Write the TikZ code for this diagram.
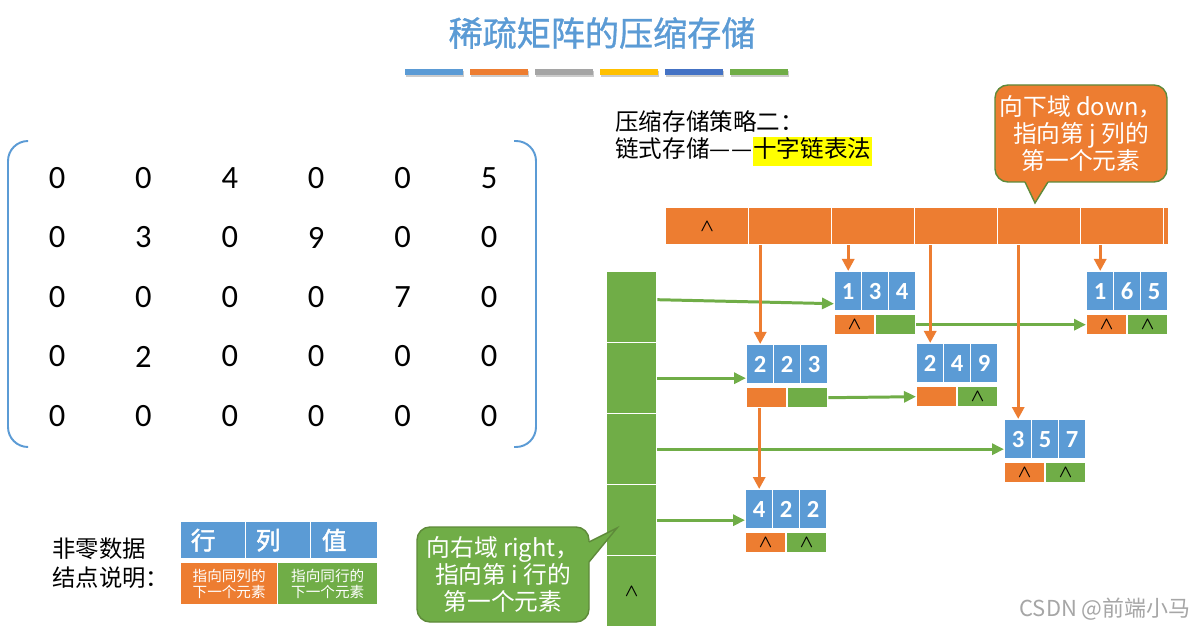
\documentclass[tikz,border=0pt]{standalone}
\usepackage{fontspec}
\setmainfont{Carlito}
\newfontfamily\cjk{Noto Sans CJK SC}
\newfontfamily\cjkb[FakeBold=2]{Noto Sans CJK SC}
\newfontfamily\cjkt[FakeBold=1]{Noto Sans CJK SC}
\usepackage{tikz}
\usetikzlibrary{arrows.meta}

\definecolor{cblue}{HTML}{5B9BD5}
\definecolor{corange}{HTML}{ED7D31}
\definecolor{cgreen}{HTML}{70AD47}
\definecolor{cgray}{HTML}{A5A5A5}
\definecolor{cgold}{HTML}{FFC000}
\definecolor{cnavy}{HTML}{4472C4}
\definecolor{cedge}{HTML}{5E8A3A}
\definecolor{cmark}{HTML}{FFFF00}

\newcommand{\nullmark}{{\fontsize{10}{10}\selectfont\boldmath$\wedge$}}

\begin{document}
\begin{tikzpicture}[x=0.2mm,y=-0.2mm,
  cell/.style={rectangle,draw=white,line width=0.8pt,inner sep=0pt,anchor=north west},
  valcell/.style={cell,fill=cblue,minimum width=5.4mm,minimum height=7.8mm,text=white,font=\fontsize{14}{14}\selectfont\bfseries},
  downcell/.style={cell,fill=corange,minimum width=8mm,minimum height=4mm},
  rightcell/.style={cell,fill=cgreen,minimum width=8mm,minimum height=4mm},
  headcell/.style={cell,fill=corange,minimum width=16.6mm,minimum height=7.4mm},
  rowcell/.style={cell,fill=cgreen,minimum width=10mm,minimum height=14.2mm},
  num/.style={font=\fontsize{18.5}{20}\selectfont},
  darrow/.style={corange,line width=1.8pt,-{Triangle[length=2.4mm,width=2.4mm]}},
  rarrow/.style={cgreen,line width=1.7pt,-{Triangle[length=2.4mm,width=2.2mm]}},
  note/.style={rectangle,rounded corners=2.6mm,draw=cedge,line width=0.8pt,text=white,align=center,inner sep=0pt,font=\cjk\fontsize{13.5}{15.5}\selectfont},
  brk/.style={cblue,line width=1.1pt,rounded corners=4mm}]
% Frame
\useasboundingbox (0,0) rectangle (1201,629);
\fill[white] (0,0) rectangle (1201,629);

% Title
\node[text=cblue,font=\cjkt\fontsize{19.4}{22}\selectfont] (title) at (602,33) {稀疏矩阵的压缩存储};
\foreach \col [count=\k from 0] in {cblue,corange,cgray,cgold,cnavy,cgreen} {
  \fill[black!20] ({406+65*\k},71) rectangle ++(58,6);
  \fill[\col] ({405+65*\k},69) rectangle ++(58,6);
}

% Matrix
\draw[brk] (28,141) -- (8,141) -- (8,447) -- (28,447);
\draw[brk] (514,141) -- (536,141) -- (536,447) -- (514,447);
\foreach \row [count=\r from 0] in {{0,0,4,0,0,5},{0,3,0,9,0,0},{0,0,0,0,7,0},{0,2,0,0,0,0},{0,0,0,0,0,0}}
  \foreach \val [count=\c from 0] in \row
    \node[num] (m\r\c) at ({57+86.4*\c},{178+59.5*\r}) {\val};

% Strategy
\node[anchor=west,align=left,inner sep=0pt,font=\cjk\fontsize{13.4}{15.4}\selectfont] (strat) at (615,138.5)
  {压缩存储策略二：\\链式存储—\kern0.5pt—{\setlength{\fboxsep}{0.5pt}\colorbox{cmark}{\strut 十字链表法}}};

% Column heads (down)
\foreach \k in {1,...,6}
  \node[headcell] (h\k) at ({665+83*(\k-1)},207) {};
\node[cell,fill=corange,minimum width=1mm,minimum height=7.4mm] (h7) at (1163,207) {};
\node (hnull) at (h1.center) {\nullmark};

% Row heads (right)
\foreach \k in {1,...,5}
  \node[rowcell] (v\k) at (606,{271+71*(\k-1)}) {};
\node (vnull) at (v5.center) {\nullmark};

% Elements
\foreach \nm/\px/\py/\i/\j/\v/\dn/\rt in {
  e134/834/271/1/3/4/\nullmark/{},
  e165/1086/271/1/6/5/\nullmark/\nullmark,
  e223/746/344/2/2/3/{}/{},
  e249/916/343/2/4/9/{}/\nullmark,
  e357/1004/419/3/5/7/\nullmark/\nullmark,
  e422/745/489/4/2/2/\nullmark/\nullmark} {
  \node[valcell] (\nm-1) at (\px,\py) {\i};
  \node[valcell] (\nm-2) at ({\px+27},\py) {\j};
  \node[valcell] (\nm-3) at ({\px+54},\py) {\v};
  \node[downcell] (\nm-d) at (\px,{\py+43}) {\dn};
  \node[rightcell] (\nm-r) at ({\px+41},{\py+43}) {\rt};
}

% Right links
\draw[rarrow] ([yshift=1.5mm]v1.east) -- ([yshift=-2.5mm]e134-1.west);
\draw[rarrow] (v2.east) -- (v2.east -| e223-1.west);
\draw[rarrow] (v3.east) -- (v3.east -| e357-1.west);
\draw[rarrow] (v4.east) -- (v4.east -| e422-1.west);
\draw[rarrow] (e134-r.east) -- (e165-d.west);
\draw[rarrow] (e223-r.east) -- (e249-d.west);

% Down links
\draw[darrow] (h2.south -| e223-1.north) -- (e223-1.north);
\draw[darrow] (h3.south -| e134-1.north) -- (e134-1.north);
\draw[darrow] (h4.south -| e249-1.north) -- (e249-1.north);
\draw[darrow] (h5.south -| e357-1.north) -- (e357-1.north);
\draw[darrow] (h6.south -| e165-1.north) -- (e165-1.north);
\draw[darrow] (e223-d.south -| e422-1.north) -- (e422-1.north);

% Callouts
\node[note,fill=corange,minimum width=34.4mm,minimum height=19.4mm] (dnote) at (1081,133.5)
  {向下域 down，\\指向第 j 列的\\第一个元素};
\coordinate (dtip) at (1035,203);
\fill[corange] (1025,178) -- (1025,182) -- (dtip) -- (1048,182) -- (1048,178) -- cycle;
\draw[cedge,line width=0.8pt] (1025,182) -- (dtip) -- (1048,182);

\node[note,fill=cgreen,minimum width=34.4mm,minimum height=19mm] (rnote) at (503,574.5)
  {向右域 right，\\指向第 i 行的\\第一个元素};
\coordinate (rtip) at (617,528);
\fill[cgreen] (585,542) -- (589,542) -- (rtip) -- (589,562) -- (585,562) -- cycle;
\draw[cedge,line width=0.8pt] (589,542) -- (rtip) -- (589,562);

% Legend
\node[anchor=west,align=left,inner sep=0pt,font=\cjk\fontsize{13.3}{16.4}\selectfont] (legtxt) at (52,563)
  {非零数据\\结点说明：};
\node[cell,fill=cblue,minimum width=13mm,minimum height=7.4mm,text=white,font=\cjkb\fontsize{14}{14}\selectfont] (lrow) at (180,521) {行\kern4mm};
\node[cell,fill=cblue,minimum width=13mm,minimum height=7.4mm,text=white,font=\cjkb\fontsize{14}{14}\selectfont] (lcol) at (245,521) {列\kern4mm};
\node[cell,fill=cblue,minimum width=13.4mm,minimum height=7.4mm,text=white,font=\cjkb\fontsize{14}{14}\selectfont] (lval) at (310,521) {值\kern4mm};
\node[cell,fill=corange,minimum width=19.4mm,minimum height=8.4mm,text=white,align=center,font=\cjk\fontsize{8.3}{9.1}\selectfont] (ldown) at (180,562) {指向同列的\\下一个元素};
\node[cell,fill=cgreen,minimum width=20mm,minimum height=8.4mm,text=white,align=center,font=\cjk\fontsize{8.3}{9.1}\selectfont] (lright) at (277,562) {指向同行的\\下一个元素};

% Watermark
\node[text=black!35,font=\cjk\fontsize{12.5}{14}\selectfont] (mark) at (1105,609) {CSDN @前端小马};
\end{tikzpicture}
\end{document}
